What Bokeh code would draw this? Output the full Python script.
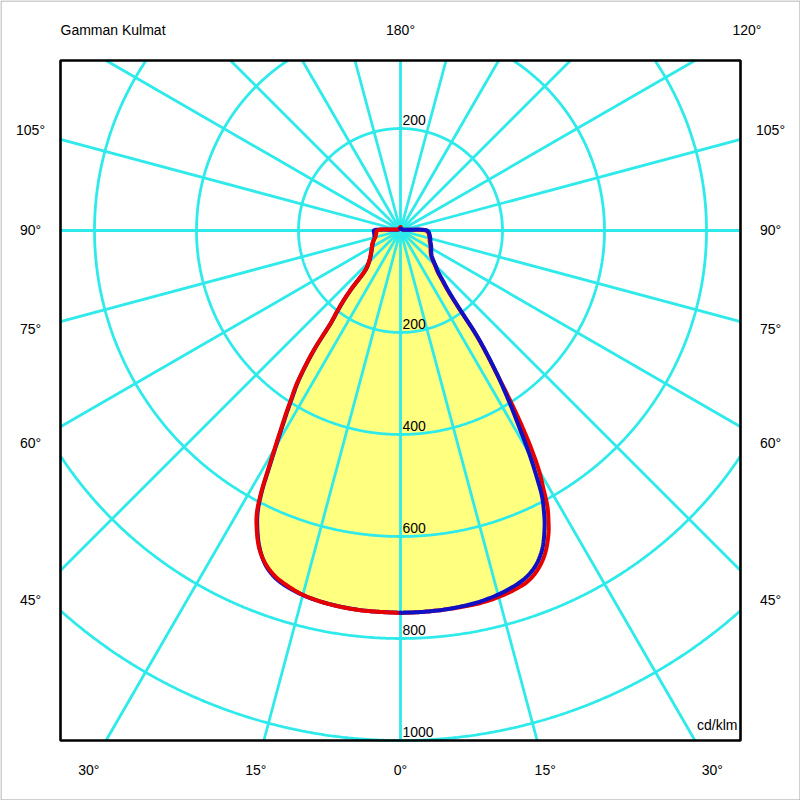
import numpy as np
from bokeh.plotting import figure
from bokeh.models import Range1d
from bokeh.embed import file_html
from bokeh.resources import INLINE
from bokeh.core.properties import value

# ---------------- data ----------------
TITLE = "Gamman Kulmat"
UNIT_LABEL = "cd/klm"

GAMMA = [0, 3, 6, 9, 12, 15, 18, 20, 22, 24, 26, 27, 28, 29, 30, 31, 32, 33, 34, 35,
         36, 37, 38, 39, 40, 41, 42, 45, 50, 55, 60, 65, 70, 75, 80, 85, 90, 95, 100, 110,
         120, 135, 150, 165, 180]

RED_LEFT = [750, 749, 748.7, 747.2, 744.5, 739.6, 729.8, 720.7, 705.5, 681.5,
            644, 620, 582, 535, 493, 456, 424, 393, 366, 329,
            287, 227, 204, 181, 153, 113, 101, 88, 77, 70,
            65, 61, 56, 51, 49, 47.5, 46, 22, 11, 6,
            5, 5, 5, 5.5, 6.5]

RED_RIGHT = [750, 749.1, 748.5, 747.8, 747.1, 744, 738, 731.5, 717.5, 695.5,
             661.9, 639.2, 613.8, 577.6, 542.7, 496, 443, 387, 333, 292,
             250, 189, 156, 139, 128, 117, 109, 95, 79, 72,
             68, 64.5, 61, 59, 57, 55, 50, 17, 8.5, 5,
             4, 4, 4, 5, 6.5]

BLUE_LEFT = [749.5, 749, 748.5, 747, 744.5, 740, 732, 723, 707, 680,
             641, 616, 579, 531, 489, 452, 420, 389, 362, 326,
             283, 224, 201, 178, 150, 110, 99, 87, 76, 69,
             64, 60, 56, 53, 52, 52, 52, 18, 9, 5,
             4, 3.5, 3.5, 3.5, 3.5]

BLUE_RIGHT = [749.5, 749.1, 748.5, 746.9, 744.3, 739.1, 731.1, 722.8, 708.1, 683.5,
              644.6, 619.7, 591.4, 548.8, 504.1, 455.6, 413.9, 373.8, 336.2, 295.4,
              253.2, 191.9, 159.7, 142.1, 130.5, 119, 110.9, 97.1, 80.7, 73.5,
              69.7, 65.9, 62.5, 60.5, 58.4, 56.3, 52, 18, 9, 5,
              4, 3.5, 3.5, 3.5, 3.5]

RING_VALUES = [200, 400, 600, 800, 1000]
RING_LABELS_BELOW = ["200", "400", "600", "800", "1000"]
RING_LABELS_ABOVE = ["200"]
RAY_STEP = 15
ANGLE_LABELS_RIGHT = [0, 15, 30, 45, 60, 75, 90, 105, 120, 180]
ANGLE_LABELS_LEFT = [15, 30, 45, 60, 75, 90, 105]

# ---------------- layout ----------------
PX = 200.0 / 102.0          # data units per screen pixel
CX, CY = 400, 230           # pixel position of the polar centre


def dx(px):
    return (px - CX) * PX


def dy(py):
    return (CY - py) * PX


FONT = value("Liberation Sans")
FS = "14px"
GRID_COLOR = "#2EEAEA"
GRID_W = 2.8
FILL_COLOR = "#FFFF80"
RED = "#E60000"
BLUE = "#1010C4"

p = figure(width=800, height=800,
           x_range=Range1d(dx(0), dx(800)), y_range=Range1d(dy(800), dy(0)),
           output_backend="svg", toolbar_location=None,
           x_axis_location=None, y_axis_location=None, min_border=0)
p.grid.visible = False
p.outline_line_color = None
p.background_fill_color = "white"
p.border_fill_color = "white"

FL, FR, FT, FB = dx(60), dx(740), dy(60), dy(740)

g = np.radians(np.array(GAMMA, dtype=float))


def half(vals, side):
    v = np.array(vals, dtype=float)
    return side * v * np.sin(g), -v * np.cos(g)


def smooth(xs, ys, n=10, alpha=0.5):
    """Centripetal Catmull-Rom rendering of the polyline through the data points."""
    P = np.column_stack([xs, ys])
    P = np.vstack([2 * P[0] - P[1], P, 2 * P[-1] - P[-2]])
    out = []
    for i in range(1, len(P) - 2):
        p0, p1, p2, p3 = P[i - 1], P[i], P[i + 1], P[i + 2]
        t0 = 0.0
        t1 = t0 + max(np.linalg.norm(p1 - p0), 1e-6) ** alpha
        t2 = t1 + max(np.linalg.norm(p2 - p1), 1e-6) ** alpha
        t3 = t2 + max(np.linalg.norm(p3 - p2), 1e-6) ** alpha
        ts = np.linspace(t1, t2, n, endpoint=False)[:, None]
        a1 = (t1 - ts) / (t1 - t0) * p0 + (ts - t0) / (t1 - t0) * p1
        a2 = (t2 - ts) / (t2 - t1) * p1 + (ts - t1) / (t2 - t1) * p2
        a3 = (t3 - ts) / (t3 - t2) * p2 + (ts - t2) / (t3 - t2) * p3
        b1 = (t2 - ts) / (t2 - t0) * a1 + (ts - t0) / (t2 - t0) * a2
        b2 = (t3 - ts) / (t3 - t1) * a2 + (ts - t1) / (t3 - t1) * a3
        c = (t2 - ts) / (t2 - t1) * b1 + (ts - t1) / (t2 - t1) * b2
        out.append(c)
    out.append(P[-2][None, :])
    Q = np.vstack(out)
    return Q[:, 0], Q[:, 1]


# fill (outer envelope)
rx, ry = smooth(*half(np.maximum(RED_RIGHT, BLUE_RIGHT), 1))
lx, ly = smooth(*half(np.maximum(RED_LEFT, BLUE_LEFT), -1))
p.patch(np.concatenate([rx, lx[::-1]]), np.concatenate([ry, ly[::-1]]),
        fill_color=FILL_COLOR, line_color=None)

# rings, clipped to frame
th = np.radians(np.arange(0, 360.001, 0.2))
for r in RING_VALUES:
    x = r * np.sin(th)
    y = -r * np.cos(th)
    inside = (x >= FL) & (x <= FR) & (y >= FB) & (y <= FT)
    p.line(np.where(inside, x, np.nan), np.where(inside, y, np.nan),
           line_color=GRID_COLOR, line_width=GRID_W)


def to_box(a_deg, left, right, top, bottom):
    t = np.radians(a_deg)
    ux, uy = np.sin(t), -np.cos(t)
    ts = []
    if ux > 1e-9:
        ts.append(right / ux)
    if ux < -1e-9:
        ts.append(left / ux)
    if uy > 1e-9:
        ts.append(top / uy)
    if uy < -1e-9:
        ts.append(bottom / uy)
    L = min(ts)
    return L * ux, L * uy


x1s, y1s = [], []
for a in range(0, 360, RAY_STEP):
    ex, ey = to_box(a, FL, FR, FT, FB)
    x1s.append(ex)
    y1s.append(ey)
p.segment(x0=[0] * len(x1s), y0=[0] * len(x1s), x1=x1s, y1=y1s,
          line_color=GRID_COLOR, line_width=GRID_W)

# curves
for vals, side, col in [(BLUE_LEFT, -1, BLUE), (RED_LEFT, -1, RED),
                        (RED_RIGHT, 1, RED), (BLUE_RIGHT, 1, BLUE)]:
    cx, cy = smooth(*half(vals, side))
    p.line(cx, cy, line_color=col, line_width=4, line_join="round", line_cap="round")

# frame
p.quad(left=FL, right=FR, top=FT, bottom=FB, fill_color=None,
       line_color="black", line_width=2.6)
# outer thin border
p.quad(left=dx(0.5), right=dx(799.5), top=dy(0.5), bottom=dy(799.5), fill_color=None,
       line_color="#A0A0A0", line_width=1)

# angle labels (centred on the ray where it meets a box 30 px outside the frame)
LL, LR, LT, LB = dx(30), dx(770), dy(30), dy(770)
tx, ty, tt = [], [], []
for a in ANGLE_LABELS_RIGHT:
    ex, ey = to_box(a, LL, LR, LT, LB)
    tx.append(ex)
    ty.append(ey + 1 * PX)
    tt.append(f"{a}°")
for a in ANGLE_LABELS_LEFT:
    ex, ey = to_box(-a, LL, LR, LT, LB)
    tx.append(ex)
    ty.append(ey + 1 * PX)
    tt.append(f"{a}°")
p.text(x=tx, y=ty, text=tt, text_font=FONT, text_font_size=FS,
       text_align="center", text_baseline="alphabetic", text_color="black")

# ring labels
rl_x = [2 * PX] * (len(RING_VALUES) + len(RING_LABELS_ABOVE))
rl_y = [-r + 9 * PX for r in RING_VALUES] + [RING_VALUES[0] + 9 * PX]
rl_t = RING_LABELS_BELOW + RING_LABELS_ABOVE
p.text(x=rl_x, y=rl_y, text=rl_t, text_font=FONT, text_font_size=FS,
       text_align="left", text_baseline="alphabetic", text_color="black")

# title and unit
p.text(x=[dx(60)], y=[dy(29)], text=[TITLE], text_font=FONT, text_font_size=FS,
       text_align="left", text_baseline="alphabetic", text_color="black")
p.text(x=[dx(737)], y=[dy(724)], text=[UNIT_LABEL], text_font=FONT, text_font_size=FS,
       text_align="right", text_baseline="alphabetic", text_color="black")

open("out.html", "w").write(file_html(p, INLINE))
